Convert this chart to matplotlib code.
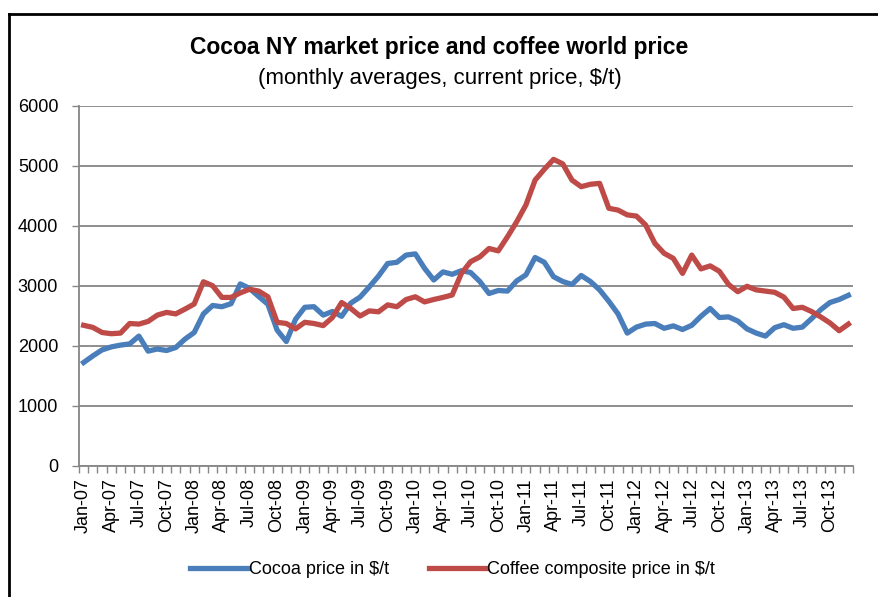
import numpy as np
import matplotlib
matplotlib.use("Agg")
import matplotlib.pyplot as plt
from matplotlib.lines import Line2D

plt.rcParams["font.family"] = ["Liberation Sans", "DejaVu Sans"]

months = ["Jan", "Feb", "Mar", "Apr", "May", "Jun",
          "Jul", "Aug", "Sep", "Oct", "Nov", "Dec"]
years = ["07", "08", "09", "10", "11", "12", "13"]
labels = [f"{m}-{y}" for y in years for m in months]

cocoa = [1720, 1830, 1930, 1980, 2010, 2030, 2160, 1910, 1945, 1920, 1970, 2110,
         2220, 2530, 2670, 2650, 2700, 3030, 2955, 2820, 2690, 2260, 2070, 2440,
         2640, 2650, 2510, 2570, 2490, 2710, 2810, 2980, 3160, 3370, 3390, 3510,
         3530, 3290, 3095, 3230, 3190, 3250, 3220, 3070, 2870, 2920, 2910, 3080,
         3180, 3470, 3390, 3150, 3070, 3020, 3170, 3070, 2930, 2740, 2530, 2210,
         2310, 2360, 2370, 2290, 2330, 2270, 2340, 2490, 2620, 2470, 2480, 2410,
         2280, 2210, 2160, 2300, 2350, 2290, 2310, 2450, 2600, 2720, 2770, 2840]

coffee = [2340, 2305, 2220, 2200, 2210, 2370, 2360, 2405, 2510, 2555, 2530, 2610,
          2695, 3065, 3000, 2805, 2805, 2880, 2940, 2910, 2815, 2390, 2370, 2280,
          2390, 2370, 2335, 2470, 2720, 2620, 2495, 2580, 2565, 2680, 2650, 2770,
          2815, 2730, 2770, 2805, 2845, 3205, 3400, 3480, 3620, 3580, 3815, 4065,
          4345, 4760, 4940, 5105, 5030, 4760, 4650, 4690, 4705, 4290, 4260, 4180,
          4160, 4010, 3705, 3540, 3455, 3205, 3510, 3280, 3330, 3240, 3020, 2900,
          2990, 2930, 2910, 2890, 2810, 2620, 2640, 2570, 2480, 2380, 2250, 2360]

blue = "#4A7EBB"
red = "#BE4B48"
grid_col = "#868686"

fig = plt.figure(figsize=(8.79, 5.97), dpi=100)
ax = fig.add_axes([0.0899, 0.2199, 0.8805, 0.6031])

x = np.arange(len(labels))
ax.plot(x, cocoa, color=blue, lw=3.8, label="Cocoa price in $/t", zorder=3)
ax.plot(x, coffee, color=red, lw=3.8, label="Coffee composite price in $/t", zorder=3)

ax.set_xlim(-0.5, len(labels) - 0.5)
ax.set_ylim(0, 6000)
ax.set_yticks(range(0, 6001, 1000))
ax.yaxis.grid(True, color=grid_col, lw=1.3)
ax.set_axisbelow(True)

ax.set_xticks(x[::3])
ax.set_xticklabels(labels[::3], rotation=90, fontsize=13)
ax.set_xticks(np.arange(-0.5, len(labels), 1), minor=True)
ax.tick_params(axis="x", which="major", length=0, pad=9)
ax.tick_params(axis="x", which="minor", length=5, color=grid_col, width=1)
ax.tick_params(axis="y", length=5, color=grid_col, width=1, labelsize=13, pad=10)

for s in ["top", "right"]:
    ax.spines[s].set_visible(False)
for s in ["left", "bottom"]:
    ax.spines[s].set_color(grid_col)
    ax.spines[s].set_linewidth(1.3)

fig.text(0.5, 0.920, "Cocoa NY market price and coffee world price",
         ha="center", va="center", fontsize=16.5, fontweight="bold")
fig.text(0.5, 0.868, "(monthly averages, current price, $/t)",
         ha="center", va="center", fontsize=16)

fig.legend(loc="center", bbox_to_anchor=(0.515, 0.046), ncol=2, frameon=False,
           fontsize=13, handlelength=3.2, handletextpad=0.05, columnspacing=2.2)

# outer chart frame
fig.add_artist(Line2D([8.5 / 879, 8.5 / 879], [0, 1 - 14 / 597],
                      transform=fig.transFigure, color="black", lw=2))
fig.add_artist(Line2D([8.5 / 879, 1], [1 - 14 / 597, 1 - 14 / 597],
                      transform=fig.transFigure, color="black", lw=2))

fig.savefig("out.png", dpi=100)
